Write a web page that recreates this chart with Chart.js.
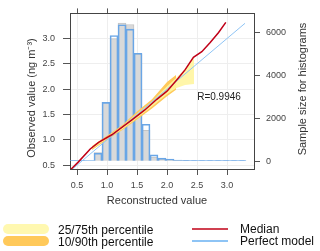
<!DOCTYPE html>
<html>
<head>
<meta charset="utf-8">
<script src="https://cdn.jsdelivr.net/npm/chart.js@4.4.1/dist/chart.umd.min.js"></script>
<style>
  body { margin: 0; background: #fff; }
  #wrap { position: relative; width: 320px; height: 251px; font-family: "Liberation Sans", Arial, sans-serif; }
  canvas { position: absolute; left: 0; top: 0; }
  .sw { position: absolute; width: 46px; height: 10px; border-radius: 5px; }
  .ln { position: absolute; width: 36px; height: 2px; }
  .lt { position: absolute; font-size: 12px; color: #111; line-height: 12px; white-space: nowrap; }
</style>
</head>
<body>
<div id="wrap">
  <canvas id="c" width="320" height="251"></canvas>
  <div class="sw" style="left:3px;top:224px;background:#fff8b0"></div>
  <div class="lt" style="left:58px;top:224px">25/75th percentile</div>
  <div class="sw" style="left:3px;top:236px;background:#ffc95a"></div>
  <div class="lt" style="left:58px;top:236px">10/90th percentile</div>
  <div class="ln" style="left:192px;top:228px;background:#d04050"></div>
  <div class="lt" style="left:240px;top:223px">Median</div>
  <div class="ln" style="left:192px;top:240px;background:#8ec4f5"></div>
  <div class="lt" style="left:240px;top:235px">Perfect model</div>
</div>
<script>
// histogram bins (centres) and sample counts
const binCenters = [0.45, 0.583, 0.717, 0.85, 0.983, 1.117, 1.25, 1.383, 1.517, 1.65, 1.783,
                    1.917, 2.05, 2.183, 2.317, 2.45, 2.583, 2.717, 2.85, 2.983, 3.117, 3.25];
const countsRecon = [0, 0, 0, 406, 2750, 5720, 6443, 6380, 5000, 1445, 195,
                     120, 80, 50, 30, 0, 0, 0, 0, 0, 0, 0];
const countsObs   = [40, 40, 50, 380, 2750, 5870, 6370, 6170, 5040, 1730, 300,
                     150, 100, 60, 40, 40, 40, 40, 40, 40, 40, 40];

// median curve
const medX = [0.40, 0.52, 0.72, 0.86, 1.08, 1.41, 1.63, 1.83, 2.00, 2.19, 2.30, 2.44, 2.58, 2.72, 2.86, 2.98];
const medY = [0.42, 0.56, 0.82, 0.95, 1.10, 1.39, 1.59, 1.80, 1.96, 2.22, 2.38, 2.63, 2.74, 2.92, 3.12, 3.32];

// percentile bands
const bandX = [0.75, 1.0, 1.25, 1.5, 1.75, 2.0, 2.15];
const p10 = [0.80, 1.00, 1.19, 1.40, 1.62, 1.86, 1.99];
const p90 = [0.88, 1.08, 1.29, 1.56, 1.80, 2.14, 2.28];
const quartX = [0.75, 1.0, 1.25, 1.5, 1.75, 2.0, 2.15, 2.3, 2.45];
const p25 = [0.82, 1.02, 1.21, 1.43, 1.66, 1.90, 2.02, 2.08, 2.10];
const p75 = [0.87, 1.06, 1.27, 1.52, 1.76, 2.06, 2.22, 2.40, 2.62];

const perfectX = [0.42, 3.3];

// ticks
const xTicks = [0.5, 1.0, 1.5, 2.0, 2.5, 3.0];
const yTicks = [0.5, 1.0, 1.5, 2.0, 2.5, 3.0];
const nTicks = [0, 2000, 4000, 6000];

const pts = (xs, ys) => xs.map((x, i) => ({ x: x, y: ys[i] }));
const setTicks = vals => scale => { scale.ticks = vals.map(v => ({ value: v })); };

const tickFont = { family: 'Liberation Sans, Arial, sans-serif', size: 9 };

const titles = {
  id: 'titles',
  afterDraw(chart) {
    const ctx = chart.ctx;
    ctx.save();
    ctx.fillStyle = '#333';
    ctx.font = '11px "Liberation Sans", Arial, sans-serif';
    ctx.textAlign = 'center';
    ctx.textBaseline = 'middle';
    ctx.fillText('Reconstructed value', 157, 201);
    ctx.save();
    ctx.translate(32, 98);
    ctx.rotate(-Math.PI / 2);
    ctx.fillText('Observed value (ng m\u207B\u00B3)', 0, 0);
    ctx.restore();
    ctx.save();
    ctx.translate(303, 89);
    ctx.rotate(-Math.PI / 2);
    ctx.fillText('Sample size for histograms', 0, 0);
    ctx.restore();
    ctx.fillStyle = '#222';
    ctx.font = '10px "Liberation Sans", Arial, sans-serif';
    ctx.fillText('R=0.9946', 219, 97);
    ctx.restore();
  }
};

new Chart(document.getElementById('c'), {
  data: {
    datasets: [
      {
        type: 'line', label: 'Median', data: pts(medX, medY),
        borderColor: '#c00018', borderWidth: 1.5, pointRadius: 0, tension: 0,
        xAxisID: 'x', yAxisID: 'y', order: 0
      },
      {
        type: 'line', label: 'Perfect model', data: pts(perfectX, perfectX),
        borderColor: '#8ec4f5', borderWidth: 1, pointRadius: 0,
        xAxisID: 'x', yAxisID: 'y', order: 1
      },
      {
        type: 'line', label: '75th', data: pts(quartX, p75),
        borderWidth: 0, pointRadius: 0, fill: '+1', backgroundColor: 'rgba(255,245,160,0.9)',
        xAxisID: 'x', yAxisID: 'y', order: 2
      },
      {
        type: 'line', label: '25th', data: pts(quartX, p25),
        borderWidth: 0, pointRadius: 0, fill: false,
        xAxisID: 'x', yAxisID: 'y', order: 2
      },
      {
        type: 'line', label: '90th', data: pts(bandX, p90),
        borderWidth: 0, pointRadius: 0, fill: '+1', backgroundColor: '#ffc95a',
        xAxisID: 'x', yAxisID: 'y', order: 3
      },
      {
        type: 'line', label: '10th', data: pts(bandX, p10),
        borderWidth: 0, pointRadius: 0, fill: false,
        xAxisID: 'x', yAxisID: 'y', order: 3
      },
      {
        type: 'bar', label: 'Observed', data: pts(binCenters, countsObs),
        backgroundColor: 'rgba(0,0,0,0)', borderColor: '#6aa6e6', borderWidth: 1,
        xAxisID: 'x', yAxisID: 'y2', order: 4
      },
      {
        type: 'bar', label: 'Reconstructed', data: pts(binCenters, countsRecon),
        backgroundColor: '#d9d9d9', borderColor: '#c4c4c4', borderWidth: 1,
        xAxisID: 'x', yAxisID: 'y2', order: 5
      }
    ]
  },
  options: {
    responsive: false,
    animation: false,
    layout: { padding: { left: 0, right: 0, top: 0, bottom: 40 } },
    datasets: { bar: { barPercentage: 1, categoryPercentage: 1, grouped: false } },
    plugins: { legend: { display: false }, tooltip: { enabled: false } },
    scales: {
      x: {
        type: 'linear', position: 'bottom', min: 0.383, max: 3.45, offset: false,
        afterBuildTicks: setTicks(xTicks),
        afterFit: s => { s.height = 42; },
        ticks: { font: tickFont, color: '#444', padding: 5, maxRotation: 0, callback: v => v.toFixed(1) },
        grid: { color: '#eeeeee', tickColor: '#555', tickLength: 6, offset: false },
        border: { color: '#444', width: 1 }
      },
      x2: {
        type: 'linear', position: 'top', min: 0.383, max: 3.45, offset: false,
        afterBuildTicks: setTicks(xTicks),
        afterFit: s => { s.height = 8; },
        ticks: { display: false },
        grid: { drawOnChartArea: false, tickColor: '#555', tickLength: 5, offset: false },
        border: { color: '#444', width: 1 }
      },
      y: {
        type: 'linear', position: 'left', min: 0.424, max: 3.496,
        afterBuildTicks: setTicks(yTicks),
        afterFit: s => { s.width = 70; },
        ticks: { font: tickFont, color: '#444', padding: 8, callback: v => v.toFixed(1) },
        grid: { color: '#eeeeee', tickColor: '#555', tickLength: 7 },
        border: { color: '#444', width: 1 }
      },
      y2: {
        type: 'linear', position: 'right', min: -360, max: 6900,
        afterBuildTicks: setTicks(nTicks),
        afterFit: s => { s.width = 66; },
        ticks: { font: tickFont, color: '#444', padding: 6, callback: v => String(v) },
        grid: { drawOnChartArea: false, tickColor: '#555', tickLength: 6 },
        border: { color: '#444', width: 1 }
      }
    }
  },
  plugins: [titles]
});
</script>
</body>
</html>
